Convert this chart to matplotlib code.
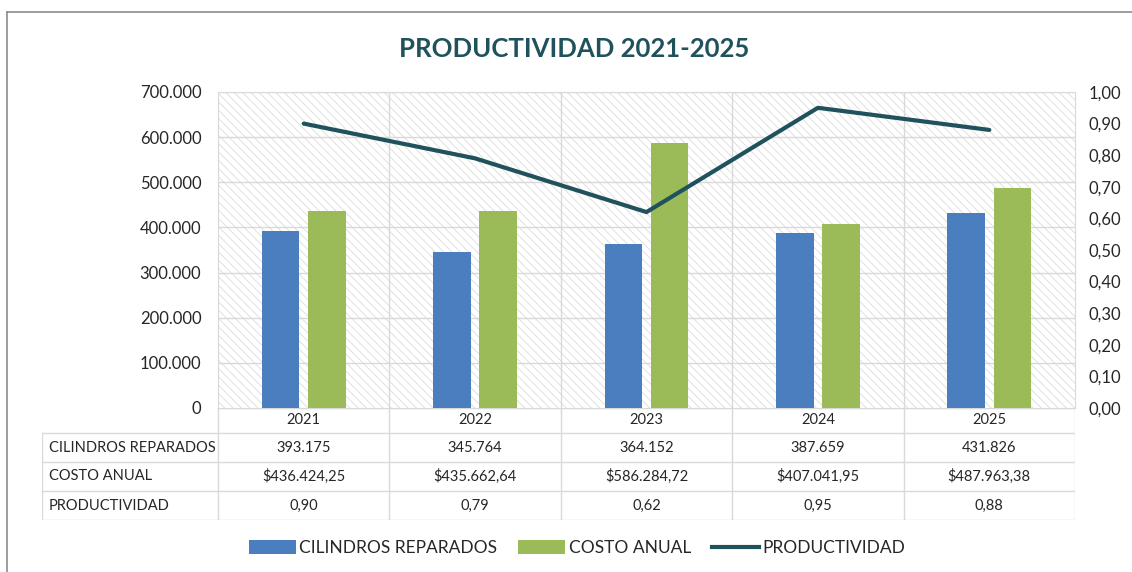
import matplotlib.pyplot as plt
from matplotlib.patches import Rectangle, Patch
from matplotlib.lines import Line2D

plt.rcParams['font.family'] = ['Lato', 'DejaVu Sans']
plt.rcParams['hatch.linewidth'] = 0.6

# ---------------- data ----------------
years = ['2021', '2022', '2023', '2024', '2025']
cilindros = [393175, 345764, 364152, 387659, 431826]
costo = [436424.25, 435662.64, 586284.72, 407041.95, 487963.38]
productividad = [0.90, 0.79, 0.62, 0.95, 0.88]

cilindros_txt = ['393.175', '345.764', '364.152', '387.659', '431.826']
costo_txt = ['$436.424,25', '$435.662,64', '$586.284,72', '$407.041,95', '$487.963,38']
prod_txt = ['0,90', '0,79', '0,62', '0,95', '0,88']
row_labels = ['CILINDROS REPARADOS', 'COSTO ANUAL', 'PRODUCTIVIDAD']

left_ticks = [0, 100000, 200000, 300000, 400000, 500000, 600000, 700000]
left_labels = ['0', '100.000', '200.000', '300.000', '400.000', '500.000', '600.000', '700.000']
right_ticks = [0.0, 0.1, 0.2, 0.3, 0.4, 0.5, 0.6, 0.7, 0.8, 0.9, 1.0]
right_labels = ['0,00', '0,10', '0,20', '0,30', '0,40', '0,50', '0,60', '0,70', '0,80', '0,90', '1,00']

blue = '#4a7ebf'
green = '#9bbb59'
teal = '#1f525c'
grid_c = '#d9d9d9'
text_c = '#262626'

W, H = 1132, 572
fig = plt.figure(figsize=(W / 100, H / 100), dpi=100)

def fbox(x0, y0, x1, y1):
    # pixel box (top-left origin) -> figure fraction rect
    return [x0 / W, 1 - y1 / H, (x1 - x0) / W, (y1 - y0) / H]

# outer border (top and left only visible)
fig.add_artist(Line2D([7 / W, 1], [1 - 12 / H, 1 - 12 / H], color='#8c8c8c', lw=1.2))
fig.add_artist(Line2D([7 / W, 7 / W], [0, 1 - 12 / H], color='#8c8c8c', lw=1.2))

# ---------------- main axes ----------------
ax = fig.add_axes(fbox(218, 92, 1075, 408))
ax.set_xlim(-0.5, 4.5)
ax.set_ylim(0, 700000)
ax.add_patch(Rectangle((0, 0), 1, 1, transform=ax.transAxes, facecolor='white',
                       edgecolor='#dcdcdc', linewidth=0, hatch='\\\\\\\\', zorder=0))
for yv in left_ticks[1:]:
    ax.axhline(yv, color=grid_c, lw=1, zorder=1)
for i in range(1, len(years)):
    ax.axvline(i - 0.5, color=grid_c, lw=1, zorder=1)

x = list(range(len(years)))
bw = 0.22
ax.bar([i - 0.135 for i in x], cilindros, width=bw, color=blue, zorder=3)
ax.bar([i + 0.135 for i in x], costo, width=bw, color=green, zorder=3)

ax.set_yticks(left_ticks)
ax.set_yticklabels(left_labels, fontsize=12, color=text_c)
ax.set_xticks([])
ax.tick_params(axis='y', length=0, pad=12)
for s in ax.spines.values():
    s.set_color(grid_c)

ax2 = ax.twinx()
ax2.set_ylim(0, 1.0)
ax2.plot(x, productividad, color=teal, lw=3, zorder=4, solid_capstyle='round')
ax2.set_yticks(right_ticks)
ax2.set_yticklabels(right_labels, fontsize=12, color=text_c)
ax2.tick_params(axis='y', length=0, pad=10)
for s in ax2.spines.values():
    s.set_visible(False)

fig.text(574 / W, 1 - 49 / H, 'PRODUCTIVIDAD 2021-2025', ha='center', va='center',
         fontsize=18.5, fontweight='bold', color=teal)

# ---------------- data table ----------------
left_w = (218 - 42) / ((1075 - 218) / 5)
tax = fig.add_axes(fbox(42, 408, 1075, 520))
tax.set_xlim(-0.5 - left_w, 4.5)
row_edges = [0, 25, 54, 83, 112]
tax.set_ylim(112, 0)
tax.axis('off')

line_kw = dict(color=grid_c, lw=1)
tax.plot([-0.5, 4.5], [0, 0], **line_kw)
for r in range(1, 5):
    tax.plot([-0.5 - left_w, 4.5], [row_edges[r], row_edges[r]], **line_kw)
for i in range(len(years) + 1):
    tax.plot([i - 0.5, i - 0.5], [0, 112], **line_kw)
tax.plot([-0.5 - left_w, -0.5 - left_w], [row_edges[1], 112], **line_kw)

rows = [cilindros_txt, costo_txt, prod_txt]
for i, yr in enumerate(years):
    tax.text(i, (row_edges[0] + row_edges[1]) / 2, yr, ha='center', va='center',
             fontsize=10.5, color=text_c)
for r, vals in enumerate(rows):
    yc = (row_edges[r + 1] + row_edges[r + 2]) / 2
    tax.text(-0.5 - left_w + 0.04, yc, row_labels[r], ha='left', va='center',
             fontsize=10.5, color=text_c)
    for i, v in enumerate(vals):
        tax.text(i, yc, v, ha='center', va='center', fontsize=10.5, color=text_c)

# ---------------- legend ----------------
handles = [Patch(facecolor=blue, edgecolor='none'),
           Patch(facecolor=green, edgecolor='none'),
           Line2D([0], [0], color=teal, lw=3)]
labels = ['CILINDROS REPARADOS', 'COSTO ANUAL', 'PRODUCTIVIDAD']
fig.legend(handles, labels, loc='center', bbox_to_anchor=(577 / W, 1 - 548 / H),
           ncol=3, frameon=False, fontsize=12.5, handlelength=2.7, handleheight=0.8,
           columnspacing=1.2, handletextpad=0.2, labelcolor=text_c)

fig.savefig('out.png', dpi=100)
